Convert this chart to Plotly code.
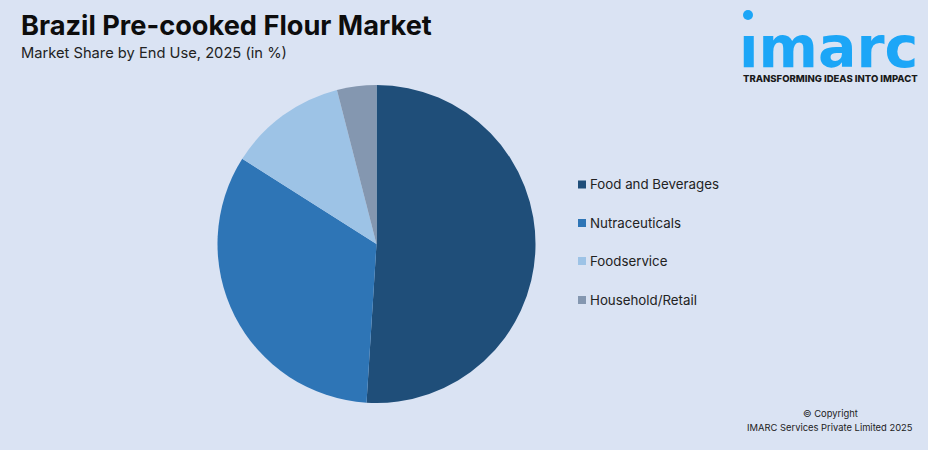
import plotly.graph_objects as go

W = 928
H = 450

categories = ["Food and Beverages", "Nutraceuticals", "Foodservice", "Household/Retail"]
shares = [51, 33, 12, 4]
colors = ["#1F4E79", "#2E75B6", "#9DC3E6", "#8497B0"]

title_text = "Brazil Pre-cooked Flour Market"
subtitle_text = "Market Share by End Use, 2025 (in %)"
tagline_text = "TRANSFORMING IDEAS INTO IMPACT"
copyright_lines = ["© Copyright", "IMARC Services Private Limited 2025"]
legend_rows = [184.5, 223, 261, 300]


def px(x):
    return x / W


def py(y):
    return 1 - y / H


def label(x, y, text, size, color, weight=400, anchor="left", family="Inter"):
    fig.add_annotation(x=px(x), y=py(y), xref="paper", yref="paper", text=text, showarrow=False,
                       xanchor=anchor, yanchor="middle", align=anchor,
                       font=dict(family=family, size=size, color=color, weight=weight))


fig = go.Figure(go.Pie(labels=categories, values=shares, sort=False, direction="clockwise", rotation=0,
                       marker=dict(colors=colors, line=dict(width=0)), textinfo="none", hole=0,
                       domain=dict(x=[px(217.5), px(535.5)], y=[py(403), py(85)])))

fig.update_layout(width=W, height=H, margin=dict(l=0, r=0, t=0, b=0), showlegend=False,
                  paper_bgcolor="#DAE3F3", plot_bgcolor="#DAE3F3")

label(19, 25, title_text, 27.2, "#0D0D0D", weight=700)
label(19, 53, subtitle_text, 14.7, "#222222")

# legend drawn by hand, the row spacing is wider than plotly's legend allows
for name, col, row in zip(categories, colors, legend_rows):
    fig.add_shape(type="rect", xref="paper", yref="paper", x0=px(578), x1=px(586), y0=py(row + 4), y1=py(row - 4),
                  fillcolor=col, line_width=0)
    label(588, row, name, 13.3, "#222222")

# logo
fig.add_shape(type="circle", xref="paper", yref="paper", x0=px(743), x1=px(753), y0=py(20), y1=py(10),
              fillcolor="#1CA6F7", line_width=0)
label(737, 47, "ımarc", 57, "#1CA6F7", weight=700, family="DejaVu Sans")
label(830, 78, tagline_text, 9.5, "#1A1A1A", weight=800, anchor="center")

label(830, 413.5, copyright_lines[0], 9.4, "#222222", anchor="center")
label(830, 427.5, copyright_lines[1], 9.4, "#222222", anchor="center")

fig.write_html("out.html", config=dict(displayModeBar=False), post_script="document.body.style.margin='0';")
